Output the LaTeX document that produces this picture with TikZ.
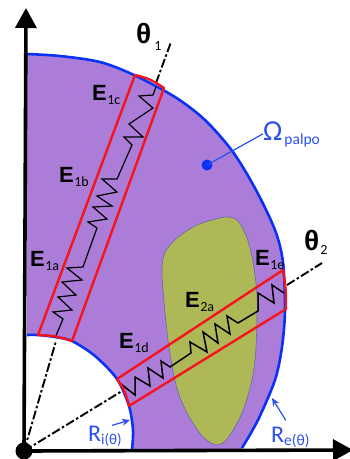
\documentclass[tikz,border=0pt]{standalone}
\usepackage{fontspec}
\setmainfont{Carlito}
\newfontfamily\heavyfont{Liberation Sans}
\usepackage{xcolor}
\usetikzlibrary{arrows.meta}
\definecolor{palpo}{HTML}{AB7DD8}
\definecolor{blob}{HTML}{AEB856}
\definecolor{rim}{HTML}{0A32F5}
\definecolor{tag}{HTML}{2A50F0}
\definecolor{box}{HTML}{F5141E}
\newcommand{\sz}[1]{\fontsize{#1}{#1}\selectfont}
\newcommand{\elabel}[1]{{\heavyfont\bfseries\sz{22}E}\raisebox{-4.5pt}{\sz{14}\kern.5pt #1}}
\tikzset{
  axisline/.style={line width=3.6pt,-{Triangle[length=20pt,width=21pt]}},
  chain/.style={line width=1.9pt,dash pattern=on 9pt off 2.5pt on 2.5pt off 2.5pt},
  rimline/.style={rim,line width=2.6pt},
  boxline/.style={box,line width=2.4pt,line join=round},
  springline/.style={black,line width=1.2pt,line join=miter},
  leader/.style={tag,line width=1.2pt},
  pointer/.style={leader,-{Stealth[length=8pt,width=7pt]}},
  elab/.style={anchor=base west,inner sep=0pt,text=black},
  rlab/.style={anchor=base west,inner sep=0pt,text=tag}
}
\begin{document}
\begin{tikzpicture}[x=1pt,y=-1pt]
\useasboundingbox (0,0) rectangle (350,459);

%========================
% Region
%========================

% fill
\fill[palpo] (27,54) -- (27,335)
  -- plot[smooth] coordinates {(27,335) (38,335) (55,337) (72,341) (95,356) (117,379) (129,406) (133,430) (132,450)}
  -- (242,449)
  -- plot[smooth] coordinates {(242,448) (258,420) (275,380) (282,347) (285,310) (283,262) (275,230) (256,190) (233,152) (205,120) (175,97) (134,75) (100,62) (60,56) (27,54)}
  -- cycle;

% pocket
\filldraw[blob,draw=black!55!blue!60,line width=.6pt] plot[smooth cycle] coordinates {
  (162,268) (165,252) (177,238) (197,225) (225,217) (238,221) (247,238) (253,262)
  (257,297) (256,347) (252,380) (242,413) (228,438) (217,445) (203,437) (187,413)
  (176,385) (168,340) (163,290)};

% radii
\draw[rimline] plot[smooth] coordinates {(27,54) (60,56) (100,62) (134,75) (175,97) (205,120) (233,152) (256,190) (275,230) (283,262) (285,310) (282,347) (275,380) (258,420) (242,448)};
\draw[rimline] plot[smooth] coordinates {(27,335) (38,335) (55,337) (72,341) (95,356) (117,379) (129,406) (133,430) (132,450)};

%========================
% Axes
%========================

\node[circle,fill=black,minimum size=17pt,inner sep=0pt] (origin) at (24,451) {};
\coordinate (ytip) at (26,8);
\coordinate (xtip) at (353,450);
\draw[axisline] (origin.center) -- (ytip);
\draw[axisline] (origin.center) -- (xtip);

% dash-dot lines
\coordinate (oneend) at (171,42);
\coordinate (oneout) at (156,83);
\coordinate (onein) at (56,341);
\coordinate (twoend) at (322,263);
\coordinate (twoout) at (287,285);
\coordinate (twoin) at (122,391);
\draw[chain] (origin.center) -- (onein);
\draw[chain] (oneout) -- (oneend);
\draw[chain] (origin.center) -- (twoin);
\draw[chain] (twoout) -- (twoend);

%========================
% Elements
%========================

% springs
\draw[springline] (55,338) -- (63,319) -- (53,312) -- (72,310) -- (58,297) -- (76,295) -- (62,282)
  -- (82,280) -- (67,268) -- (83,267) -- (97,228) -- (88,222) -- (107,219) -- (93,207) -- (112,206)
  -- (97,196) -- (117,192) -- (102,179) -- (117,179) -- (132,145) -- (124,137) -- (143,137)
  -- (129,124) -- (153,108) -- (139,96) -- (153,95) -- (156,87);
\draw[springline,line width=1.5pt] (121,384) -- (135,395) -- (135,377) -- (150,386) -- (148,368)
  -- (163,378) -- (161,361) -- (170,367) -- (191,353) -- (190,342) -- (207,352) -- (203,332)
  -- (218,343) -- (215,324) -- (230,334) -- (227,316) -- (238,323) -- (258,311) -- (258,293)
  -- (274,303) -- (272,285) -- (284,293);

% boxes
\draw[boxline] (135,75) .. controls (150,79) .. (164,88) -- (72,341)
  .. controls (56,336) .. (38,335) -- cycle;
\draw[boxline] (117,379) -- (283,270) .. controls (286,290) .. (286,309) -- (129,406)
  .. controls (125,391) .. (117,379);

%========================
% Labels
%========================

\foreach \px/\py/\tagname in {92/100/1c,59/182/1b,30/266/1a,119/348/1d,255/265/1e,185/307/2a}
{
    \node[elab] (e\tagname) at (\px,\py) {\elabel{\tagname}};
}

\node[elab] (thetaone) at (136,43) {{\heavyfont\bfseries\sz{28}θ}\raisebox{-7pt}{\sz{14}\kern3pt 1}};
\node[elab] (thetatwo) at (304,250) {{\heavyfont\bfseries\sz{28}θ}\raisebox{-4pt}{\sz{14}\kern1pt 2}};

% omega
\node[circle,fill=rim,minimum size=11pt,inner sep=0pt] (omegadot) at (207,165) {};
\node[rlab] (omegalabel) at (263,140) {\sz{29}Ω\raisebox{-4pt}{\sz{15.5}\kern2pt palpo}};
\draw[leader] (omegadot.center) -- (omegalabel.west);

% radii labels
\node[rlab] (rilabel) at (88,441) {\sz{24}R\raisebox{-3.5pt}{\sz{15}i(θ)}};
\node[rlab] (relabel) at (271,442) {\sz{24}R\raisebox{-3.5pt}{\sz{15.5}e(θ)}};
\coordinate (ritip) at (130,420);
\coordinate (retip) at (272,398);
\draw[pointer] ([xshift=-10pt]rilabel.north east) -- (ritip);
\draw[pointer] ([xshift=-24pt,yshift=6pt]relabel.north east) -- (retip);
\end{tikzpicture}
\end{document}
